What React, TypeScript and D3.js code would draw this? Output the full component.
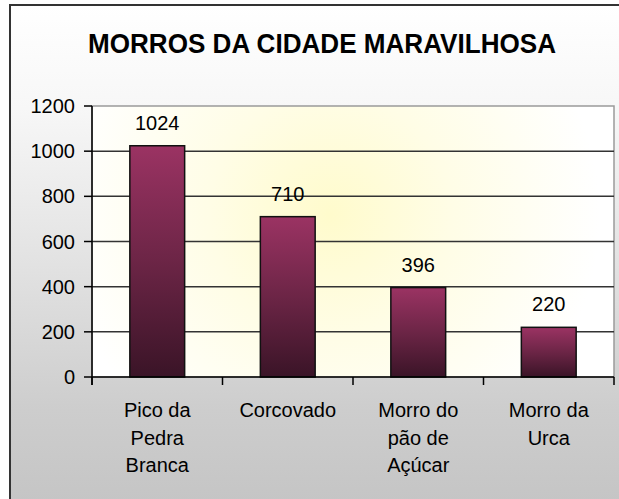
import { useMemo } from 'react';
import * as d3 from 'd3';

const TITLE = 'MORROS DA CIDADE MARAVILHOSA';
const categories = ['Pico da Pedra Branca', 'Corcovado', 'Morro do pão de Açúcar', 'Morro da Urca'];
const categoryLines = [['Pico da', 'Pedra', 'Branca'], ['Corcovado'], ['Morro do', 'pão de', 'Açúcar'], ['Morro da', 'Urca']];
const values = [1024, 710, 396, 220];
const yTicks = [0, 200, 400, 600, 800, 1000, 1200];

const W = 619;
const H = 499;
const PLOT = { left: 92, right: 614, top: 106, bottom: 377 };
const FONT = '"Liberation Sans", Arial, Helvetica, sans-serif';

export default function App() {
  const x = useMemo(
    () => d3.scaleBand<string>().domain(categories).range([PLOT.left, PLOT.right]).paddingInner(0.58).paddingOuter(0.29),
    []
  );
  const y = useMemo(() => d3.scaleLinear().domain([0, 1200]).range([PLOT.bottom, PLOT.top]), []);

  const step = x.step();
  const boundaries = d3.range(categories.length + 1).map((i) => PLOT.left + i * step);

  return (
    <svg width={W} height={H} style={{ position: 'fixed', left: 0, top: 0, display: 'block' }}>
      <defs>
        <linearGradient id="bgGrad" x1="0" y1="0" x2="0" y2="1">
          <stop offset="0" stopColor="#ffffff" />
          <stop offset="0.2" stopColor="#f7f7f7" />
          <stop offset="0.5" stopColor="#e2e2e2" />
          <stop offset="0.78" stopColor="#cdcdcd" />
          <stop offset="1" stopColor="#c3c3c3" />
        </linearGradient>
        <radialGradient id="plotGrad" cx="330" cy="215" r="270" gradientUnits="userSpaceOnUse">
          <stop offset="0" stopColor="#fffbcc" />
          <stop offset="0.45" stopColor="#fffde6" />
          <stop offset="1" stopColor="#ffffff" />
        </radialGradient>
        <linearGradient id="barGrad" x1="0" y1="0" x2="0" y2="1">
          <stop offset="0" stopColor="#9b3363" />
          <stop offset="0.5" stopColor="#6c2546" />
          <stop offset="1" stopColor="#3a1427" />
        </linearGradient>
      </defs>

      {/* chart frame */}
      <rect x={10} y={5} width={W + 20} height={H + 20} fill="url(#bgGrad)" stroke="#333" strokeWidth={2} />

      <text x={322} y={53} textAnchor="middle" fontFamily={FONT} fontWeight="bold" fontSize={27}
        textLength={468} lengthAdjust="spacingAndGlyphs" fill="#000">
        {TITLE}
      </text>

      {/* plot area */}
      <rect x={PLOT.left} y={PLOT.top} width={PLOT.right - PLOT.left} height={PLOT.bottom - PLOT.top}
        fill="url(#plotGrad)" stroke="#9a9a9a" strokeWidth={1.5} />

      {/* gridlines */}
      {yTicks.filter((t) => t > 0 && t < 1200).map((t) => (
        <line key={t} x1={PLOT.left} x2={PLOT.right} y1={y(t)} y2={y(t)} stroke="#333" strokeWidth={1.5} />
      ))}

      {/* bars */}
      {categories.map((c, i) => (
        <rect key={c} x={x(c)} y={y(values[i])} width={x.bandwidth()} height={y(0) - y(values[i])}
          fill="url(#barGrad)" stroke="#111" strokeWidth={1.5} />
      ))}

      {/* value labels */}
      {categories.map((c, i) => (
        <text key={c} x={(x(c) ?? 0) + x.bandwidth() / 2} y={y(values[i]) - 16} textAnchor="middle"
          fontFamily={FONT} fontSize={20} fill="#000">
          {values[i]}
        </text>
      ))}

      {/* y axis */}
      <line x1={PLOT.left} x2={PLOT.left} y1={PLOT.top} y2={PLOT.bottom + 8} stroke="#000" strokeWidth={1.5} />
      {yTicks.map((t) => (
        <g key={t}>
          <line x1={PLOT.left - 8} x2={PLOT.left} y1={y(t)} y2={y(t)} stroke="#000" strokeWidth={1.5} />
          <text x={PLOT.left - 17} y={y(t) + 7} textAnchor="end" fontFamily={FONT} fontSize={20} fill="#000">
            {t}
          </text>
        </g>
      ))}

      {/* x axis */}
      <line x1={PLOT.left} x2={PLOT.right} y1={PLOT.bottom} y2={PLOT.bottom} stroke="#000" strokeWidth={1.5} />
      {boundaries.map((b, i) => (
        <line key={i} x1={b} x2={b} y1={PLOT.bottom} y2={PLOT.bottom + 8} stroke="#000" strokeWidth={1.5} />
      ))}
      {categories.map((c, i) => (
        <text key={c} x={(x(c) ?? 0) + x.bandwidth() / 2} y={417} textAnchor="middle"
          fontFamily={FONT} fontSize={20} fill="#000">
          {categoryLines[i].map((line, j) => (
            <tspan key={j} x={(x(c) ?? 0) + x.bandwidth() / 2} dy={j === 0 ? 0 : 27.5}>{line}</tspan>
          ))}
        </text>
      ))}
    </svg>
  );
}
